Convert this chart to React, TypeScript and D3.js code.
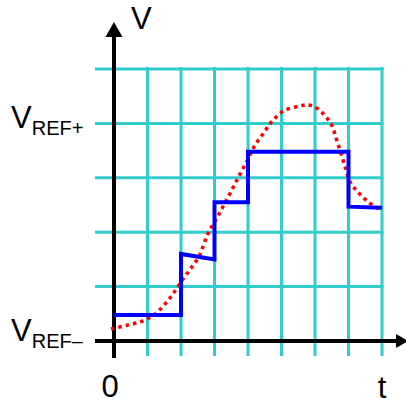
import React from "react";
import * as d3 from "d3";

// Time grid (t in sample periods) and voltage grid levels
const timeTicks = [0, 1, 2, 3, 4, 5, 6, 7, 8];
const levelTicks = [1, 2, 3, 4, 5];

// Sample-and-hold staircase output (t, V)
const stairT = [0, 2, 2, 3, 3, 4, 4, 7, 7, 8];
const stairV = [0.48, 0.48, 1.6, 1.5, 2.55, 2.55, 3.48, 3.48, 2.47, 2.45];

// Analog input signal (t, V)
const sigT = [-0.09, 0.39, 0.87, 1.25, 1.58, 1.82, 2.06, 2.3, 2.54, 2.81, 3.07, 3.28, 3.52, 3.73, 3.97, 4.18, 4.45, 4.72, 5.07, 5.55, 5.76, 6.0, 6.21, 6.48, 6.63, 6.78, 6.93, 7.07, 7.25, 7.58, 8.0];
const sigV = [0.22, 0.29, 0.37, 0.51, 0.72, 0.92, 1.14, 1.34, 1.56, 1.98, 2.26, 2.5, 2.78, 3.03, 3.31, 3.57, 3.81, 4.04, 4.23, 4.32, 4.34, 4.3, 4.2, 3.99, 3.73, 3.44, 3.14, 2.9, 2.76, 2.56, 2.39];

const W = 406;
const H = 401;
const GRID = "#33CCCC";
const FONT = "'Liberation Sans', Arial, sans-serif";

export default function App() {
  const x = d3.scaleLinear().domain([0, 8]).range([114, 382]);
  const y = d3.scaleLinear().domain([0, 5]).range([341, 69]);

  const stairLine = d3
    .line<number>()
    .x((_, i) => x(stairT[i]))
    .y((v) => y(v))
    .curve(d3.curveLinear);

  const sigLine = d3
    .line<number>()
    .x((_, i) => x(sigT[i]))
    .y((v) => y(v))
    .curve(d3.curveCatmullRom.alpha(0.5));

  const gridLeft = 95;
  const gridRight = x(8) + 1.5;
  const gridTop = y(5) - 2;
  const gridBottom = 356;

  return (
    <svg
      width={W}
      height={H}
      style={{ position: "absolute", left: 0, top: 0, background: "#fff" }}
    >
      {/* grid */}
      <g stroke={GRID} strokeWidth={3}>
        {levelTicks.map((v) => (
          <line key={"h" + v} x1={gridLeft} x2={gridRight} y1={y(v)} y2={y(v)} />
        ))}
        {timeTicks.slice(1).map((t) => (
          <line key={"v" + t} x1={x(t)} x2={x(t)} y1={gridTop} y2={gridBottom} />
        ))}
      </g>

      {/* axes */}
      <g stroke="#000" strokeWidth={4}>
        <line x1={x(0)} x2={x(0)} y1={358} y2={34} />
        <line x1={gridLeft} x2={398} y1={y(0)} y2={y(0)} />
      </g>
      <path d={`M${x(0) - 8.5},37 L${x(0)},22 L${x(0) + 8.5},37 Z`} fill="#000" />
      <path d={`M396,${y(0) - 7} L408,${y(0)} L396,${y(0) + 7} Z`} fill="#000" />

      {/* signals */}
      <path
        d={sigLine(sigV) || ""}
        fill="none"
        stroke="#FF0000"
        strokeWidth={3.5}
        strokeDasharray="3.5 4"
      />
      <path
        d={stairLine(stairV) || ""}
        fill="none"
        stroke="#0000FF"
        strokeWidth={4}
        strokeLinejoin="miter"
      />

      {/* labels */}
      <g fontFamily={FONT} fill="#000">
        <text x={131} y={29} fontSize={31}>V</text>
        <text x={11} y={128} fontSize={31}>
          V<tspan fontSize={20} dy={7}>REF+</tspan>
        </text>
        <text x={11} y={341} fontSize={31}>
          V<tspan fontSize={20} dy={7}>REF–</tspan>
        </text>
        <text x={110} y={397} fontSize={31} textAnchor="middle">0</text>
        <text x={382} y={398} fontSize={31} textAnchor="middle">t</text>
      </g>
    </svg>
  );
}
